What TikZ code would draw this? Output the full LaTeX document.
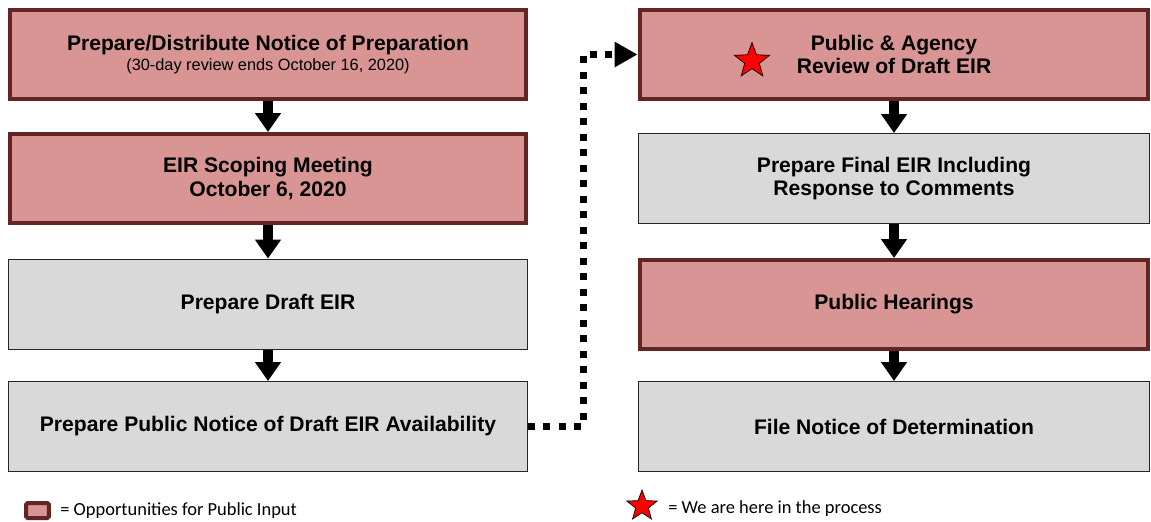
\documentclass[tikz,border=0pt]{standalone}
\usepackage{fontspec}
\setmainfont{Liberation Sans}
\newfontfamily\legendfont{Carlito}
\usetikzlibrary{arrows.meta,shapes.geometric}

\definecolor{inputfill}{HTML}{D99594}
\definecolor{inputline}{HTML}{632523}
\definecolor{stepfill}{HTML}{D9D9D9}

\tikzset{
	boxtext/.style={align=center, font=\fontsize{12}{13.6}\selectfont\bfseries},
	redbox/.style={boxtext, draw=inputline, fill=inputfill, line width=0.08cm, minimum height=1.78cm},
	graybox/.style={boxtext, draw=black!85, fill=stepfill, line width=0.02cm, minimum height=1.8cm},
	leftcol/.style={minimum width=10.32cm},
	rightcol/.style={minimum width=10.18cm},
	flowarrow/.style={line width=0.2cm, -{Triangle[length=0.38cm,width=0.5cm]}},
	dotlink/.style={line width=0.14cm, dash pattern=on 0.14cm off 0.17cm, -{Triangle[length=0.46cm,width=0.48cm]}},
	herestar/.style={star, star points=5, star point ratio=2.4, draw=black, fill=red, inner sep=0pt, line width=0.4pt},
	legendtext/.style={anchor=west, inner sep=0pt, font=\legendfont\fontsize{10.5}{12}\selectfont}
}

\begin{document}
\begin{tikzpicture}[x=0.02cm, y=-0.02cm]
	\useasboundingbox (0,0) rectangle (1151,521);
	\node[redbox, leftcol] (nop) at (268,54.5) {Prepare/Distribute Notice of Preparation\\[-2.5pt]
		{\fontsize{9.3}{11}\selectfont\mdseries (30-day review ends October 16, 2020)}};
	\node[redbox, leftcol] (scoping) at (268,178.5) {EIR Scoping Meeting\\October 6, 2020};
	\node[graybox, leftcol, minimum width=10.38cm] (draft) at (268,304) {Prepare Draft EIR};
	\node[graybox, leftcol, minimum width=10.38cm] (notice) at (268,426.5) {Prepare Public Notice of Draft EIR Availability};

	\node[redbox, rightcol] (review) at (894,54.5) {Public \& Agency\\Review of Draft EIR};
	\node[graybox, rightcol, minimum width=10.24cm] (final) at (894,178.5) {Prepare Final EIR Including\\Response to Comments};
	\node[redbox, rightcol] (hearings) at (894,304.5) {Public Hearings};
	\node[graybox, rightcol, minimum width=10.24cm] (nod) at (894,426.5) {File Notice of Determination};

	\node[herestar, minimum size=0.74cm] (here) at (752,61) {};

	\draw[flowarrow] (nop) -- (scoping);
	\draw[flowarrow] (scoping) -- (draft);
	\draw[flowarrow] (draft) -- (notice);
	\draw[flowarrow] (review) -- (final);
	\draw[flowarrow] (final) -- (hearings);
	\draw[flowarrow] (hearings) -- (nod);

	\coordinate (bend) at (583,426.5);
	\draw[dotlink] (notice.east) -- (bend) |- (review.west);

	\node[draw=inputline, fill=inputfill, line width=0.08cm, rounded corners=1pt, minimum width=0.46cm, minimum height=0.3cm, inner sep=0pt] (keybox) at (37.5,510.5) {};
	\node[legendtext] (keytext) at (60,511) {= Opportunities for Public Input};
	\node[herestar, minimum size=0.64cm] (keystar) at (642,506) {};
	\node[legendtext] (startext) at (668,509) {= We are here in the process};
\end{tikzpicture}
\end{document}
